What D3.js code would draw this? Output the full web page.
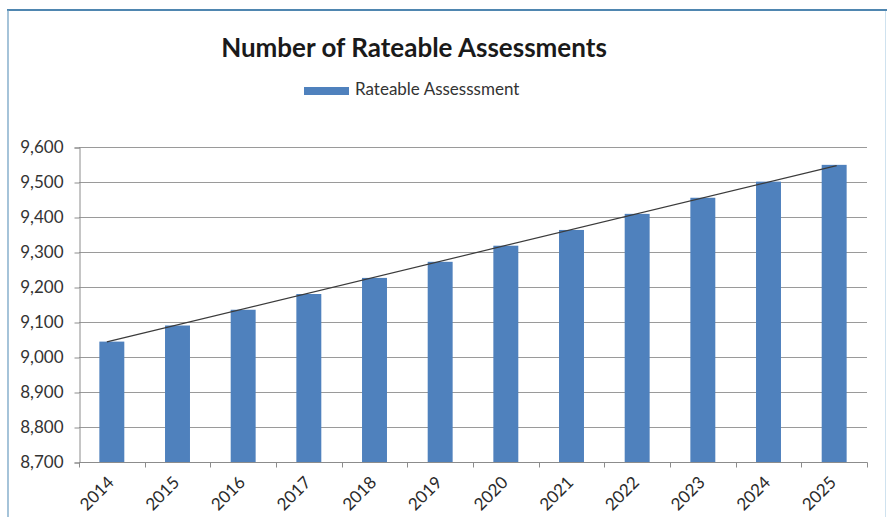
<!DOCTYPE html>
<html>
<head>
<meta charset="utf-8">
<script src="https://cdn.jsdelivr.net/npm/d3@7"></script>
<style>
  html, body { margin: 0; padding: 0; background: #ffffff; }
  svg { display: block; }
</style>
</head>
<body>
<svg id="chart" width="887" height="517"></svg>
<script>
// Rateable assessments per year
const years = ["2014", "2015", "2016", "2017", "2018", "2019", "2020", "2021", "2022", "2023", "2024", "2025"];
const assessments = [9044, 9090, 9135, 9180, 9226, 9272, 9318, 9363, 9409, 9455, 9501, 9549];
const yTicks = [8700, 8800, 8900, 9000, 9100, 9200, 9300, 9400, 9500, 9600];
const chartTitle = "Number of Rateable Assessments";
const seriesName = "Rateable Assesssment";

const W = 887, H = 517;
const margin = { left: 79, top: 147 };
const plotRight = 867, plotBottom = 462;
const barColor = "#4f81bd";
const font = "Lato, 'Open Sans', sans-serif";

const svg = d3.select("#chart");

// outer frame (top and side edges)
svg.append("line").attr("x1", 7).attr("x2", W).attr("y1", 10).attr("y2", 10)
  .attr("stroke", "#4f86b0").attr("stroke-width", 2);
svg.append("line").attr("x1", 8).attr("x2", 8).attr("y1", 10).attr("y2", H)
  .attr("stroke", "#6a9cc0").attr("stroke-width", 1.2);
svg.append("line").attr("x1", 885.5).attr("x2", 885.5).attr("y1", 11).attr("y2", H)
  .attr("stroke", "#cfe2ef").attr("stroke-width", 1);

const x = d3.scaleBand().domain(years).range([margin.left, plotRight]).paddingInner(0.62).paddingOuter(0.31);
const xBand = d3.scaleBand().domain(years).range([margin.left, plotRight]);
const y = d3.scaleLinear().domain([8700, 9600]).range([plotBottom, margin.top]);

// horizontal gridlines
svg.append("g").selectAll("line").data(yTicks.slice(1)).join("line")
  .attr("x1", margin.left).attr("x2", plotRight)
  .attr("y1", d => Math.round(y(d)) + 0.5).attr("y2", d => Math.round(y(d)) + 0.5)
  .attr("stroke", "#9a9a9a").attr("stroke-width", 1);

// y axis
const yAxis = svg.append("g").attr("transform", `translate(${margin.left + 0.5},0.5)`)
  .call(d3.axisLeft(y).tickValues(yTicks).tickFormat(d3.format(",")).tickSize(5).tickPadding(11));
yAxis.select(".domain").attr("stroke", "#8c8c8c");
yAxis.selectAll(".tick line").attr("stroke", "#8c8c8c");
yAxis.selectAll("text").attr("fill", "#333333").style("font-family", font).style("font-size", "17px");

// bars
svg.append("g").selectAll("rect").data(assessments).join("rect")
  .attr("x", (d, i) => x(years[i]))
  .attr("width", x.bandwidth())
  .attr("y", d => y(d))
  .attr("height", d => plotBottom - y(d))
  .attr("fill", barColor);

// x axis with ticks between categories
const xAxisG = svg.append("g").attr("transform", `translate(0,${plotBottom + 0.5})`);
xAxisG.append("line").attr("x1", margin.left).attr("x2", plotRight + 0.5)
  .attr("stroke", "#8c8c8c");
const boundaries = years.map(d => xBand(d)).concat([plotRight]);
xAxisG.selectAll("line.tk").data(boundaries).join("line").attr("class", "tk")
  .attr("x1", d => Math.round(d) + 0.5).attr("x2", d => Math.round(d) + 0.5)
  .attr("y1", 0).attr("y2", 5).attr("stroke", "#8c8c8c");
xAxisG.selectAll("text").data(years).join("text")
  .attr("transform", d => `translate(${xBand(d) + xBand.bandwidth() / 2 + 0},${18}) rotate(-45)`)
  .attr("text-anchor", "end")
  .attr("dominant-baseline", "middle")
  .attr("fill", "#2a2a2a")
  .style("font-family", font).style("font-size", "17px")
  .text(d => d);

// linear trendline fitted to the yearly values
const n = assessments.length;
const idx = d3.range(n);
const mx = d3.mean(idx), my = d3.mean(assessments);
const slope = d3.sum(idx, i => (i - mx) * (assessments[i] - my)) / d3.sum(idx, i => (i - mx) ** 2);
const intercept = my - slope * mx;
const trendEnds = [
  [x(years[0]) + x.bandwidth() * 0.3, intercept],
  [x(years[n - 1]) + x.bandwidth() * 0.6, intercept + slope * (n - 1)]
];
svg.append("path")
  .attr("d", d3.line().x(d => d[0]).y(d => y(d[1]))(trendEnds))
  .attr("fill", "none").attr("stroke", "#3b3b3b").attr("stroke-width", 1.2);

// title
svg.append("text").attr("x", 414).attr("y", 57).attr("text-anchor", "middle")
  .style("font-family", font).style("font-weight", "bold").style("font-size", "26px")
  .attr("fill", "#1a1a1a").text(chartTitle);

// legend
svg.append("rect").attr("x", 304).attr("y", 87).attr("width", 45).attr("height", 8).attr("fill", barColor);
svg.append("text").attr("x", 355).attr("y", 91).attr("dominant-baseline", "middle")
  .style("font-family", font).style("font-size", "17px").attr("fill", "#333333").text(seriesName);
</script>
</body>
</html>
